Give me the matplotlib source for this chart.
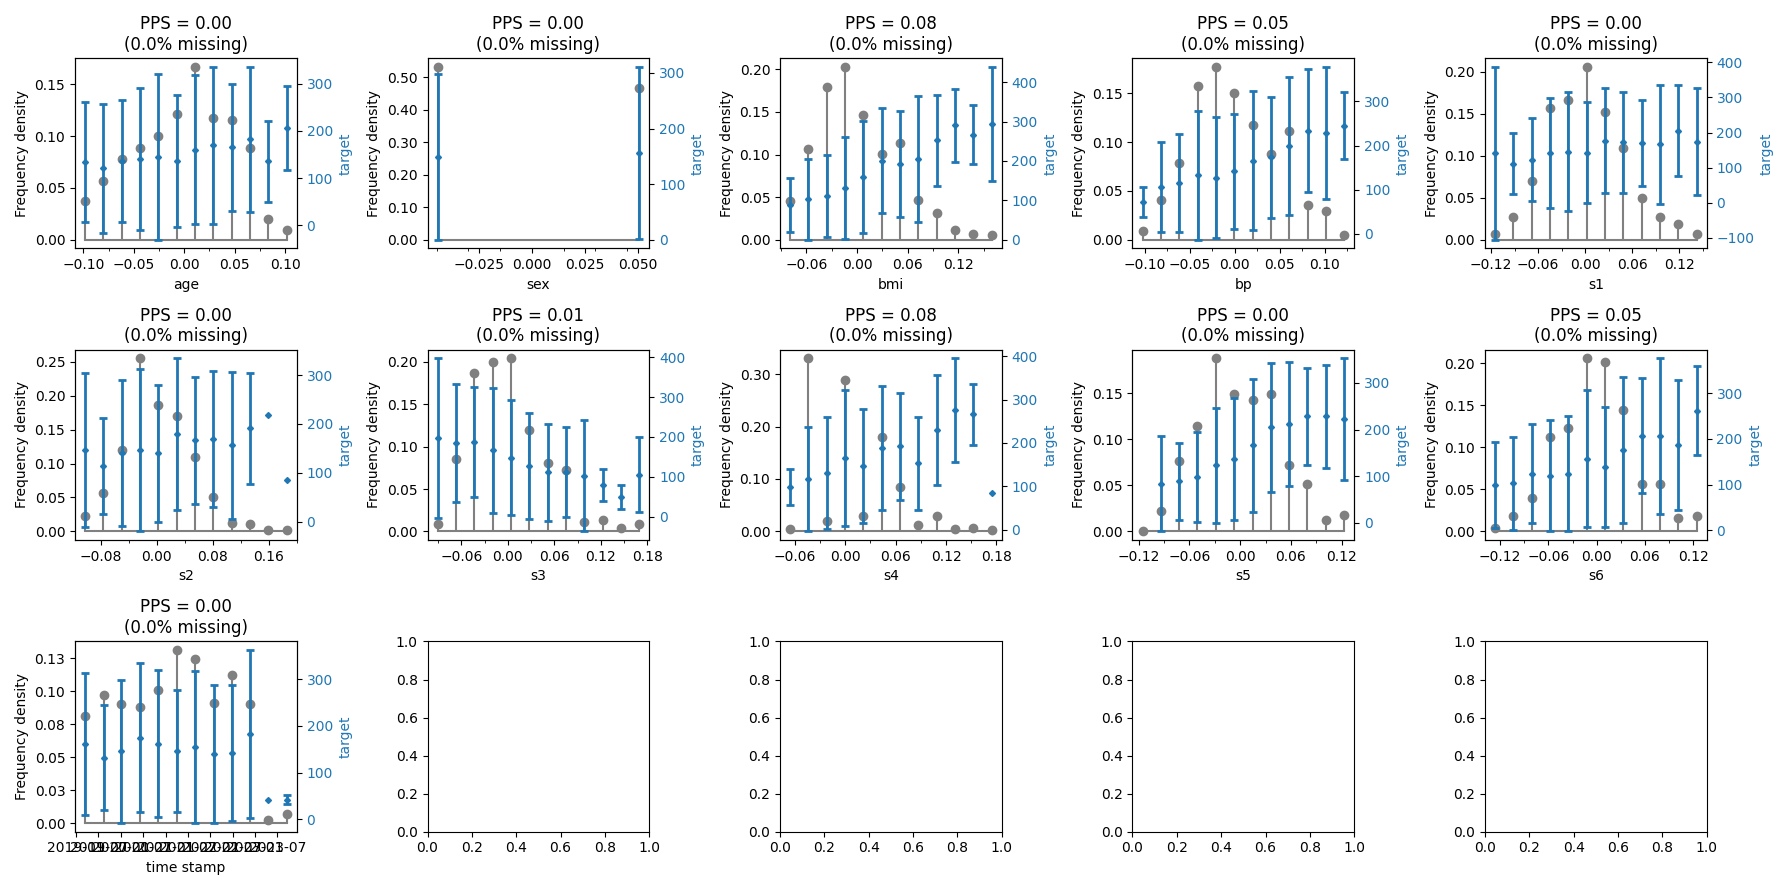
import numpy as np
import matplotlib
matplotlib.use("Agg")
import matplotlib.pyplot as plt
import matplotlib.ticker as mticker
import matplotlib.dates as mdates

# feature names, scores and missing share
features = ["age", "sex", "bmi", "bp", "s1", "s2", "s3", "s4", "s5", "s6", "time stamp"]
pps = [0.00, 0.00, 0.08, 0.05, 0.00, 0.00, 0.01, 0.08, 0.00, 0.05, 0.00]
missing = [0.0, 0.0, 0.0, 0.0, 0.0, 0.0, 0.0, 0.0, 0.0, 0.0, 0.0]

nan = np.nan

# bin centers, frequency density, target mean and error per feature
age_x = [-0.0982, -0.0800, -0.0618, -0.0437, -0.0255, -0.0073, 0.0109, 0.0290, 0.0472, 0.0654, 0.0835, 0.1017]
age_freq = [0.037, 0.057, 0.078, 0.089, 0.100, 0.121, 0.167, 0.118, 0.116, 0.089, 0.020, 0.009]
age_mean = [134, 121, 136, 141, 145, 137, 160, 169, 165, 182, 136, 206]
age_err = [127, 137, 129, 151, 176, 140, 158, 167, 134, 154, 86, 89]

sex_x = [-0.0446, 0.0507]
sex_freq = [0.532, 0.468]
sex_mean = [149, 156]
sex_err = [149, 155]

bmi_x = [-0.0794, -0.0577, -0.0359, -0.0142, 0.0075, 0.0293, 0.0510, 0.0728, 0.0945, 0.1162, 0.1380, 0.1597]
bmi_freq = [0.045, 0.107, 0.179, 0.203, 0.146, 0.101, 0.113, 0.047, 0.031, 0.011, 0.007, 0.005]
bmi_mean = [88, 103, 112, 132, 160, 201, 192, 205, 252, 290, 267, 294]
bmi_err = [69, 103, 104, 130, 142, 133, 134, 160, 115, 92, 76, 145]

bp_x = [-0.1022, -0.0818, -0.0615, -0.0411, -0.0207, -0.0004, 0.0200, 0.0404, 0.0607, 0.0811, 0.1015, 0.1218]
bp_freq = [0.009, 0.041, 0.079, 0.157, 0.177, 0.150, 0.117, 0.088, 0.111, 0.036, 0.029, 0.005]
bp_mean = [72, 107, 115, 133, 127, 142, 166, 173, 198, 233, 229, 245]
bp_err = [34, 102, 110, 146, 137, 130, 157, 137, 156, 139, 149, 75]

s1_x = [-0.1151, -0.0917, -0.0683, -0.0449, -0.0215, 0.0019, 0.0253, 0.0487, 0.0721, 0.0955, 0.1189, 0.1422]
s1_freq = [0.007, 0.027, 0.070, 0.157, 0.167, 0.206, 0.152, 0.109, 0.050, 0.027, 0.019, 0.007]
s1_mean = [141, 111, 123, 142, 146, 143, 177, 172, 171, 166, 205, 174]
s1_err = [246, 87, 119, 156, 168, 143, 149, 144, 122, 170, 130, 153]

s2_x = [-0.1025, -0.0763, -0.0501, -0.0239, 0.0023, 0.0285, 0.0547, 0.0809, 0.1071, 0.1333, 0.1595, 0.1857]
s2_freq = [0.022, 0.056, 0.120, 0.255, 0.186, 0.170, 0.109, 0.051, 0.013, 0.011, 0.002, 0.002]
s2_mean = [147, 114, 141, 146, 140, 179, 167, 169, 156, 191, 219, 85]
s2_err = [158, 99, 149, 166, 140, 155, 130, 140, 151, 114, nan, nan]

s3_x = [-0.0905, -0.0669, -0.0432, -0.0196, 0.0041, 0.0277, 0.0513, 0.0750, 0.0986, 0.1222, 0.1458, 0.1694]
s3_freq = [0.009, 0.085, 0.187, 0.200, 0.204, 0.120, 0.081, 0.073, 0.011, 0.014, 0.004, 0.009]
s3_mean = [197, 185, 187, 167, 148, 127, 111, 112, 103, 79, 50, 105]
s3_err = [200, 148, 138, 157, 144, 134, 121, 112, 140, 40, 30, 94]

s4_x = [-0.0655, -0.0437, -0.0219, -0.0001, 0.0217, 0.0435, 0.0653, 0.0871, 0.1089, 0.1307, 0.1525, 0.1743]
s4_freq = [0.005, 0.330, 0.019, 0.288, 0.030, 0.180, 0.085, 0.013, 0.030, 0.005, 0.006, 0.002]
s4_mean = [99, 116, 131, 165, 147, 188, 192, 153, 230, 275, 266, 85]
s4_err = [42, 120, 129, 157, 132, 143, 123, 108, 126, 120, 70, nan]

s5_x = [-0.1153, -0.0937, -0.0720, -0.0504, -0.0287, -0.0071, 0.0146, 0.0362, 0.0579, 0.0795, 0.1012, 0.1228]
s5_freq = [0.000, 0.022, 0.076, 0.115, 0.188, 0.149, 0.143, 0.149, 0.072, 0.052, 0.012, 0.018]
s5_mean = [nan, 84, 89, 99, 123, 137, 166, 205, 212, 228, 228, 222]
s5_err = [nan, 102, 83, 96, 123, 131, 143, 138, 133, 104, 111, 130]

s6_x = [-0.1264, -0.1036, -0.0808, -0.0580, -0.0353, -0.0125, 0.0103, 0.0331, 0.0559, 0.0786, 0.1014, 0.1242]
s6_freq = [0.004, 0.018, 0.040, 0.113, 0.123, 0.206, 0.202, 0.145, 0.056, 0.056, 0.016, 0.018]
s6_mean = [100, 103, 124, 120, 124, 157, 138, 176, 207, 206, 187, 262]
s6_err = [94, 102, 108, 121, 126, 149, 131, 160, 126, 170, 142, 98]

ts_dates = ["2019-03-15", "2019-08-15", "2020-01-05", "2020-06-09", "2020-11-01", "2021-04-01",
            "2021-08-27", "2022-01-27", "2022-06-24", "2022-11-20", "2023-04-17", "2023-09-17"]
ts_freq = [0.081, 0.097, 0.090, 0.088, 0.101, 0.131, 0.124, 0.091, 0.112, 0.090, 0.002, 0.007]
ts_mean = [161, 132, 146, 175, 162, 146, 155, 140, 142, 182, 42, 42]
ts_err = [152, 112, 153, 159, 158, 130, 162, 148, 145, 180, nan, 10]

ts_x = mdates.date2num(np.array(ts_dates, dtype="datetime64[D]"))

xs = [age_x, sex_x, bmi_x, bp_x, s1_x, s2_x, s3_x, s4_x, s5_x, s6_x, ts_x]
freqs = [age_freq, sex_freq, bmi_freq, bp_freq, s1_freq, s2_freq, s3_freq, s4_freq, s5_freq, s6_freq, ts_freq]
means = [age_mean, sex_mean, bmi_mean, bp_mean, s1_mean, s2_mean, s3_mean, s4_mean, s5_mean, s6_mean, ts_mean]
errs = [age_err, sex_err, bmi_err, bp_err, s1_err, s2_err, s3_err, s4_err, s5_err, s6_err, ts_err]

fig, axes = plt.subplots(3, 5, figsize=(17.89, 8.9), dpi=100)
axes = axes.ravel()

for i, name in enumerate(features):
    ax = axes[i]
    markers, stems, base = ax.stem(xs[i], freqs[i])
    plt.setp(markers, color="grey", markersize=6)
    plt.setp(stems, color="grey")
    plt.setp(base, color="grey")
    ax.set_ylabel("Frequency density")
    ax.set_xlabel(name)
    ax.set_title(f"PPS = {pps[i]:.2f}\n({missing[i]:.1f}% missing)")
    ax.yaxis.set_major_formatter(mticker.FormatStrFormatter("%.2f"))
    if name == "time stamp":
        loc = mdates.AutoDateLocator()
        ax.xaxis.set_major_locator(loc)
        ax.xaxis.set_major_formatter(mdates.AutoDateFormatter(loc))
    else:
        ax.xaxis.set_major_locator(mticker.MaxNLocator(nbins=5))
        ax.xaxis.set_minor_locator(mticker.MaxNLocator(nbins=10))

    ax2 = ax.twinx()
    ax2.errorbar(xs[i], means[i], yerr=errs[i], fmt="D", ms=3, color="tab:blue",
                 elinewidth=2, capsize=3, capthick=2)
    ax2.set_ylabel("target", color="tab:blue")
    ax2.tick_params(axis="y", labelcolor="tab:blue")

plt.tight_layout()
plt.savefig("out.png")
